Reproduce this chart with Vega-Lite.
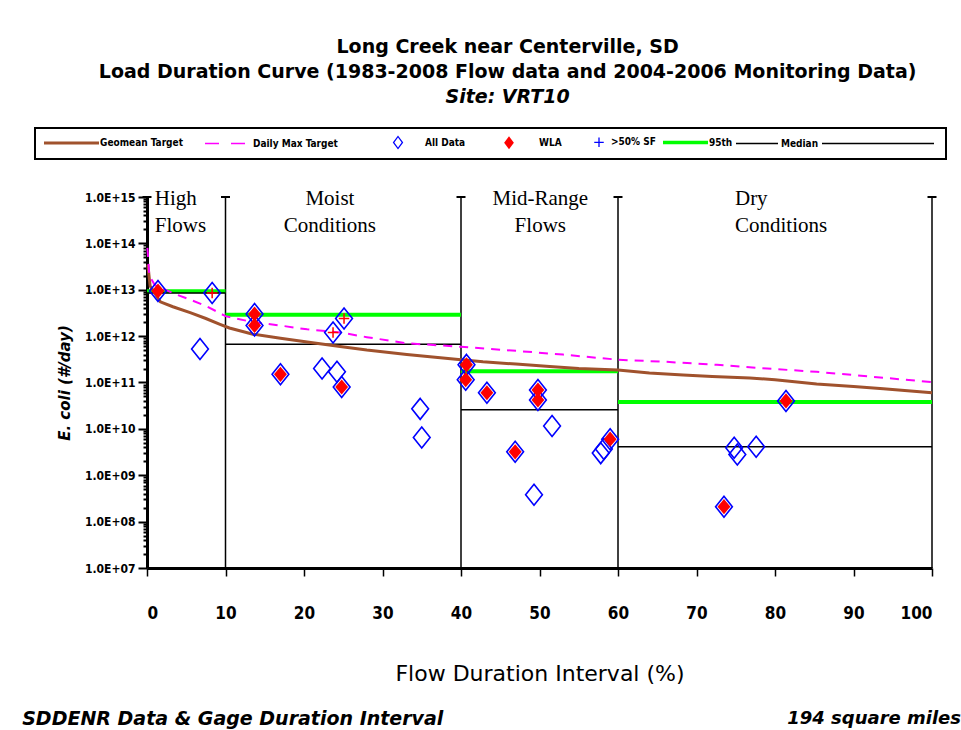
{
  "$schema": "https://vega.github.io/schema/vega-lite/v6.json",
  "padding": {"left": 22, "top": 38, "right": 5, "bottom": 5},
  "background": "white",
  "title": {
    "text": ["Long Creek near Centerville, SD", "Load Duration Curve   (1983-2008 Flow data and 2004-2006 Monitoring Data)"],
    "subtitle": "Site:  VRT10",
    "anchor": "middle",
    "dx": 16,
    "offset": 20,
    "font": "DejaVu Sans",
    "fontSize": 19,
    "fontWeight": "bold",
    "color": "black",
    "lineHeight": 25,
    "subtitleFont": "DejaVu Sans",
    "subtitleFontSize": 19,
    "subtitleFontWeight": "bold",
    "subtitleFontStyle": "italic",
    "subtitleColor": "black",
    "subtitlePadding": 6
  },
  "datasets": {
    "curves": [
      {"series": "Geomean Target", "x": 0.1, "y": 3.5e13},
      {"series": "Geomean Target", "x": 0.4, "y": 1.2e13},
      {"series": "Geomean Target", "x": 1.7, "y": 5.5e12},
      {"series": "Geomean Target", "x": 3.3, "y": 4.3e12},
      {"series": "Geomean Target", "x": 5.5, "y": 3.2e12},
      {"series": "Geomean Target", "x": 7.5, "y": 2.4e12},
      {"series": "Geomean Target", "x": 9.3, "y": 1.8e12},
      {"series": "Geomean Target", "x": 10.5, "y": 1.5e12},
      {"series": "Geomean Target", "x": 13.5, "y": 1.1e12},
      {"series": "Geomean Target", "x": 17, "y": 9e11},
      {"series": "Geomean Target", "x": 20.4, "y": 7.5e11},
      {"series": "Geomean Target", "x": 24.6, "y": 6e11},
      {"series": "Geomean Target", "x": 28, "y": 5e11},
      {"series": "Geomean Target", "x": 33.1, "y": 4e11},
      {"series": "Geomean Target", "x": 40, "y": 3.1e11},
      {"series": "Geomean Target", "x": 42.8, "y": 2.8e11},
      {"series": "Geomean Target", "x": 47, "y": 2.5e11},
      {"series": "Geomean Target", "x": 51.3, "y": 2.2e11},
      {"series": "Geomean Target", "x": 55, "y": 2e11},
      {"series": "Geomean Target", "x": 60, "y": 1.85e11},
      {"series": "Geomean Target", "x": 64, "y": 1.6e11},
      {"series": "Geomean Target", "x": 68.3, "y": 1.45e11},
      {"series": "Geomean Target", "x": 72, "y": 1.35e11},
      {"series": "Geomean Target", "x": 76.8, "y": 1.25e11},
      {"series": "Geomean Target", "x": 80, "y": 1.15e11},
      {"series": "Geomean Target", "x": 85.3, "y": 9.3e10},
      {"series": "Geomean Target", "x": 90, "y": 8.2e10},
      {"series": "Geomean Target", "x": 93.8, "y": 7.3e10},
      {"series": "Geomean Target", "x": 100, "y": 6e10},
      {"series": "Daily Max Target", "x": 0.05, "y": 8e13},
      {"series": "Daily Max Target", "x": 0.3, "y": 2e13},
      {"series": "Daily Max Target", "x": 1, "y": 1.26e13},
      {"series": "Daily Max Target", "x": 3.8, "y": 7.8e12},
      {"series": "Daily Max Target", "x": 5.1, "y": 6.5e12},
      {"series": "Daily Max Target", "x": 7.6, "y": 4.4e12},
      {"series": "Daily Max Target", "x": 10, "y": 2.7e12},
      {"series": "Daily Max Target", "x": 13.5, "y": 2e12},
      {"series": "Daily Max Target", "x": 16.9, "y": 1.7e12},
      {"series": "Daily Max Target", "x": 20.4, "y": 1.4e12},
      {"series": "Daily Max Target", "x": 24.6, "y": 1.2e12},
      {"series": "Daily Max Target", "x": 28, "y": 9.5e11},
      {"series": "Daily Max Target", "x": 33.1, "y": 7e11},
      {"series": "Daily Max Target", "x": 40, "y": 5.9e11},
      {"series": "Daily Max Target", "x": 47.1, "y": 4.8e11},
      {"series": "Daily Max Target", "x": 53, "y": 4e11},
      {"series": "Daily Max Target", "x": 60, "y": 3.1e11},
      {"series": "Daily Max Target", "x": 66, "y": 2.8e11},
      {"series": "Daily Max Target", "x": 72.6, "y": 2.4e11},
      {"series": "Daily Max Target", "x": 79, "y": 2e11},
      {"series": "Daily Max Target", "x": 85.3, "y": 1.7e11},
      {"series": "Daily Max Target", "x": 92, "y": 1.35e11},
      {"series": "Daily Max Target", "x": 100, "y": 1.02e11}
    ],
    "levels": [
      {"series": "95th", "x": 0, "x2": 10, "y": 9.3e12},
      {"series": "95th", "x": 10, "x2": 40, "y": 2.9e12},
      {"series": "95th", "x": 40, "x2": 60, "y": 1.75e11},
      {"series": "95th", "x": 60, "x2": 100, "y": 3.8e10},
      {"series": "Median", "x": 0, "x2": 10, "y": 8.5e12},
      {"series": "Median", "x": 10, "x2": 40, "y": 6.7e11},
      {"series": "Median", "x": 40, "x2": 60, "y": 2.6e10},
      {"series": "Median", "x": 60, "x2": 100, "y": 4.1e9}
    ],
    "bounds": [{"x": 10}, {"x": 40}, {"x": 60}, {"x": 100}],
    "points": [
      {"x": 1.4, "y": 9.4e12, "wla": true, "sf": false},
      {"x": 8.3, "y": 8.5e12, "wla": false, "sf": true},
      {"x": 6.75, "y": 5.3e11, "wla": false, "sf": false},
      {"x": 13.7, "y": 3.0e12, "wla": true, "sf": false},
      {"x": 13.7, "y": 1.7e12, "wla": true, "sf": false},
      {"x": 17.0, "y": 1.5e11, "wla": true, "sf": false},
      {"x": 22.3, "y": 2.0e11, "wla": false, "sf": false},
      {"x": 23.7, "y": 1.2e12, "wla": false, "sf": true},
      {"x": 25.1, "y": 2.4e12, "wla": false, "sf": true},
      {"x": 24.2, "y": 1.7e11, "wla": false, "sf": false},
      {"x": 24.8, "y": 8.0e10, "wla": true, "sf": false},
      {"x": 34.8, "y": 2.7e10, "wla": false, "sf": false},
      {"x": 35.0, "y": 6.5e9, "wla": false, "sf": false},
      {"x": 40.7, "y": 2.4e11, "wla": true, "sf": false},
      {"x": 40.6, "y": 1.15e11, "wla": true, "sf": false},
      {"x": 43.3, "y": 6.0e10, "wla": true, "sf": false},
      {"x": 49.8, "y": 6.9e10, "wla": true, "sf": false},
      {"x": 49.8, "y": 4.2e10, "wla": true, "sf": false},
      {"x": 46.9, "y": 3.2e9, "wla": true, "sf": false},
      {"x": 51.6, "y": 1.15e10, "wla": false, "sf": false},
      {"x": 49.3, "y": 3.8e8, "wla": false, "sf": false},
      {"x": 59.0, "y": 6.0e9, "wla": true, "sf": false},
      {"x": 57.8, "y": 3.0e9, "wla": false, "sf": false},
      {"x": 58.2, "y": 3.7e9, "wla": false, "sf": false},
      {"x": 73.5, "y": 2.1e8, "wla": true, "sf": false},
      {"x": 81.4, "y": 4.0e10, "wla": true, "sf": false},
      {"x": 74.8, "y": 3.9e9, "wla": false, "sf": false},
      {"x": 75.2, "y": 2.8e9, "wla": false, "sf": false},
      {"x": 77.6, "y": 4.1e9, "wla": false, "sf": false}
    ]
  },
  "spacing": 25,
  "vconcat": [
    {
      "width": 785,
      "height": 371,
      "layer": [
        {
          "data": {"name": "bounds"},
          "mark": {"type": "rule", "color": "black", "strokeWidth": 1.5},
          "encoding": {
            "x": {
              "field": "x", "type": "quantitative",
              "scale": {"domain": [0, 100], "nice": false, "zero": false},
              "axis": {
                "values": [0, 10, 20, 30, 40, 50, 60, 70, 80, 90, 100],
                "title": "Flow Duration Interval (%)",
                "titleFont": "DejaVu Sans", "titleFontSize": 22, "titleFontWeight": "normal",
                "titlePadding": 42,
                "labelFont": "DejaVu Sans Condensed, DejaVu Sans",
                "labelFontSize": 17, "labelFontWeight": "bold",
                "labelPadding": 29,
                "tickSize": 8, "tickWidth": 1.5,
                "domainWidth": 3, "grid": false
              }
            },
            "y": {
              "datum": 1e7, "type": "quantitative",
              "scale": {"type": "log", "domain": [1e7, 1e15], "nice": false},
              "axis": {
                "values": [1e7, 2e7, 3e7, 4e7, 5e7, 6e7, 7e7, 8e7, 9e7,
                           1e8, 2e8, 3e8, 4e8, 5e8, 6e8, 7e8, 8e8, 9e8,
                           1e9, 2e9, 3e9, 4e9, 5e9, 6e9, 7e9, 8e9, 9e9,
                           1e10, 2e10, 3e10, 4e10, 5e10, 6e10, 7e10, 8e10, 9e10,
                           1e11, 2e11, 3e11, 4e11, 5e11, 6e11, 7e11, 8e11, 9e11,
                           1e12, 2e12, 3e12, 4e12, 5e12, 6e12, 7e12, 8e12, 9e12,
                           1e13, 2e13, 3e13, 4e13, 5e13, 6e13, 7e13, 8e13, 9e13,
                           1e14, 2e14, 3e14, 4e14, 5e14, 6e14, 7e14, 8e14, 9e14, 1e15],
                "labelExpr": "abs(log(datum.value)/LN10 - round(log(datum.value)/LN10)) < 0.001 ? '1.0E+' + (round(log(datum.value)/LN10) < 10 ? '0' : '') + round(log(datum.value)/LN10) : ''",
                "labelOverlap": false,
                "labelFont": "DejaVu Sans Condensed, DejaVu Sans",
                "labelFontSize": 12, "labelFontWeight": "bold",
                "labelPadding": 3,
                "tickSize": {"condition": {"test": "abs(log(datum.value)/LN10 - round(log(datum.value)/LN10)) < 0.001", "value": 9}, "value": 4},
                "tickWidth": 2,
                "domainWidth": 3,
                "grid": false,
                "title": "E. coli  (#/day)",
                "titleFont": "DejaVu Sans", "titleFontSize": 15, "titleFontWeight": "bold", "titleFontStyle": "italic",
                "titlePadding": 12
              }
            },
            "y2": {"datum": 1e15}
          }
        },
        {
          "data": {"values": [{"x": 0}, {"x": 10}, {"x": 40}, {"x": 60}, {"x": 100}]},
          "mark": {"type": "tick", "orient": "horizontal", "size": 9, "thickness": 2, "color": "black", "opacity": 1},
          "encoding": {
            "x": {"field": "x", "type": "quantitative"},
            "y": {"datum": 1e15, "type": "quantitative"}
          }
        },
        {
          "data": {"name": "levels"},
          "mark": {"type": "rule"},
          "encoding": {
            "x": {"field": "x", "type": "quantitative"},
            "x2": {"field": "x2"},
            "y": {"field": "y", "type": "quantitative"},
            "color": {
              "field": "series", "type": "nominal",
              "scale": {
                "domain": ["Geomean Target", "Daily Max Target", "All Data", "WLA", ">50% SF", "95th", "Median", " "],
                "range": ["#A0522D", "#FF00FF", "#0000FF", "#FF0000", "#0000FF", "#00FF00", "#000000", "#000000"]
              },
              "legend": {
                "orient": "none", "legendX": -112, "legendY": -69,
                "direction": "horizontal", "columns": 8, "title": null,
                "strokeColor": "black", "padding": 9,
                "symbolType": "stroke", "symbolSize": 2500, "symbolStrokeWidth": 2,
                "labelFont": "DejaVu Sans Condensed, DejaVu Sans",
                "labelFontSize": 10, "labelFontWeight": "bold", "labelColor": "black",
                "labelOffset": 2, "columnPadding": 0, "labelLimit": 400,
                "encode": {
                  "legend": {"update": {"strokeWidth": {"value": 2}}},
                  "labels": {"update": {
                    "x": {"signal": "datum.value === 'Geomean Target' ? 56 : datum.value === 'Daily Max Target' ? 70 : datum.value === 'All Data' ? 87 : datum.value === 'WLA' ? 73 : datum.value === '>50% SF' ? 49 : datum.value === '95th' ? 44 : datum.value === 'Median' ? 48 : 116"}
                  }},
                  "symbols": {"update": {
                    "x": {"signal": "datum.value === 'Geomean Target' ? 27.5 : datum.value === 'Daily Max Target' ? 42 : datum.value === 'All Data' ? 60 : datum.value === 'WLA' ? 43 : datum.value === '>50% SF' ? 37 : datum.value === '95th' ? 20.5 : datum.value === 'Median' ? 24 : 58"},
                    "shape": {"signal": "datum.value === 'All Data' ? 'M0,-1L0.75,0L0,1L-0.75,0Z M0,-0.72L-0.52,0L0,0.72L0.52,0Z' : datum.value === 'WLA' ? 'M0,-1L0.75,0L0,1L-0.75,0Z' : datum.value === '>50% SF' ? 'M-1,0H1M0,-1V1' : 'stroke'"},
                    "size": {"signal": "datum.value === 'All Data' ? 196 : datum.value === 'WLA' ? 169 : datum.value === '>50% SF' ? 90 : datum.value === 'Geomean Target' ? 3025 : datum.value === 'Daily Max Target' ? 1600 : datum.value === ' ' ? 12544 : datum.value === 'Median' ? 1764 : 2025"},
                    "strokeDash": {"signal": "datum.value === 'Daily Max Target' ? [14, 12] : [1, 0]"},
                    "strokeWidth": {"signal": "datum.value === 'Geomean Target' ? 3 : datum.value === '95th' ? 3.5 : (datum.value === 'WLA' || datum.value === 'All Data') ? 0 : 1.3"},
                    "opacity": {"value": 1}
                  }}
                }
              }
            },
            "strokeWidth": {"condition": {"test": "datum.series === '95th'", "value": 4}, "value": 1.5}
          }
        },
        {
          "data": {"name": "curves"},
          "transform": [{"filter": "datum.series === 'Geomean Target'"}],
          "mark": {"type": "line", "strokeWidth": 3},
          "encoding": {
            "x": {"field": "x", "type": "quantitative"},
            "y": {"field": "y", "type": "quantitative"},
            "color": {"field": "series", "type": "nominal"}
          }
        },
        {
          "data": {"name": "curves"},
          "transform": [{"filter": "datum.series === 'Daily Max Target'"}],
          "mark": {"type": "line", "strokeWidth": 2, "strokeDash": [9, 7]},
          "encoding": {
            "x": {"field": "x", "type": "quantitative"},
            "y": {"field": "y", "type": "quantitative"},
            "color": {"field": "series", "type": "nominal"}
          }
        },
        {
          "data": {"name": "points"},
          "mark": {"type": "point", "shape": "M0,-1L0.8,0L0,1L-0.8,0Z", "filled": false, "size": 440, "strokeWidth": 1.6, "opacity": 1},
          "encoding": {
            "x": {"field": "x", "type": "quantitative"},
            "y": {"field": "y", "type": "quantitative"},
            "color": {"datum": "All Data", "type": "nominal"}
          }
        },
        {
          "data": {"name": "points"},
          "transform": [{"filter": "datum.wla"}],
          "mark": {"type": "point", "shape": "M0,-1L0.85,0L0,1L-0.85,0Z", "filled": true, "size": 230, "opacity": 1},
          "encoding": {
            "x": {"field": "x", "type": "quantitative"},
            "y": {"field": "y", "type": "quantitative"},
            "color": {"datum": "WLA", "type": "nominal"}
          }
        },
        {
          "data": {"name": "points"},
          "transform": [{"filter": "datum.sf"}],
          "mark": {"type": "point", "shape": "M-1,0H1M0,-1V1", "filled": false, "size": 110, "strokeWidth": 1.5, "opacity": 1, "color": "#FF0000"},
          "encoding": {
            "x": {"field": "x", "type": "quantitative"},
            "y": {"field": "y", "type": "quantitative"}
          }
        },
        {
          "data": {"values": [{"x": 1.0, "label": "High\nFlows"}, {"x": 74.9, "label": "Dry\nConditions"}]},
          "mark": {"type": "text", "align": "left", "baseline": "top", "dy": -9, "font": "Liberation Serif", "fontSize": 21, "lineHeight": 27, "lineBreak": "\n", "color": "black"},
          "encoding": {
            "x": {"field": "x", "type": "quantitative"},
            "y": {"datum": 1e15, "type": "quantitative"},
            "text": {"field": "label"}
          }
        },
        {
          "data": {"values": [{"x": 23.3, "label": "Moist\nConditions"}, {"x": 50.1, "label": "Mid-Range\nFlows"}]},
          "mark": {"type": "text", "align": "center", "baseline": "top", "dy": -9, "font": "Liberation Serif", "fontSize": 21, "lineHeight": 27, "lineBreak": "\n", "color": "black"},
          "encoding": {
            "x": {"field": "x", "type": "quantitative"},
            "y": {"datum": 1e15, "type": "quantitative"},
            "text": {"field": "label"}
          }
        }
      ]
    },
    {
      "width": 785,
      "height": 20,
      "layer": [
        {
          "data": {"values": [{"x": -15.9, "label": "SDDENR Data & Gage Duration Interval"}]},
          "mark": {"type": "text", "align": "left", "font": "DejaVu Sans", "fontSize": 19, "fontWeight": "bold", "fontStyle": "italic", "color": "black"},
          "encoding": {
            "x": {"field": "x", "type": "quantitative", "scale": {"domain": [0, 100], "nice": false, "zero": false}, "axis": null},
            "text": {"field": "label"}
          }
        },
        {
          "data": {"values": [{"x": 103.7, "label": "194 square miles"}]},
          "mark": {"type": "text", "align": "right", "font": "DejaVu Sans", "fontSize": 18, "fontWeight": "bold", "fontStyle": "italic", "color": "black"},
          "encoding": {
            "x": {"field": "x", "type": "quantitative"},
            "text": {"field": "label"}
          }
        }
      ]
    }
  ],
  "config": {
    "view": {"stroke": null},
    "axis": {"domainColor": "black", "tickColor": "black", "labelColor": "black", "titleColor": "black", "grid": false}
  }
}
